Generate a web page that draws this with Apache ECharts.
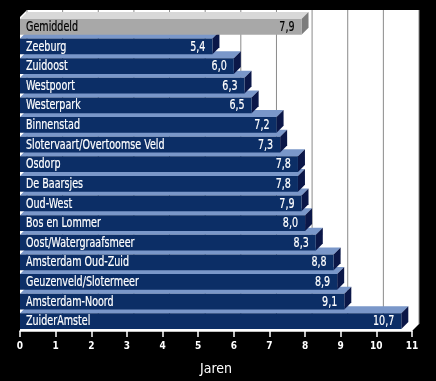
<!DOCTYPE html>
<html><head><meta charset="utf-8">
<script src="https://cdn.jsdelivr.net/npm/echarts@6/dist/echarts.min.js"></script>
<style>html,body{margin:0;padding:0;background:#000;}#c{width:436px;height:381px;}</style>
</head><body><div id="c"></div>
<script>
const categories = ['Gemiddeld','Zeeburg','Zuidoost','Westpoort','Westerpark','Binnenstad','Slotervaart/Overtoomse Veld','Osdorp','De Baarsjes','Oud-West','Bos en Lommer','Oost/Watergraafsmeer','Amsterdam Oud-Zuid','Geuzenveld/Slotermeer','Amsterdam-Noord','ZuiderAmstel'];
const values = [7.9,5.4,6.0,6.3,6.5,7.2,7.3,7.8,7.8,7.9,8.0,8.3,8.8,8.9,9.1,10.7];
const xTicks = [0,1,2,3,4,5,6,7,8,9,10,11];
const highlight = 'Gemiddeld';
const axisTitle = 'Jaren';

const D = 7;
const SX = 0.76;
const FONT = '"DejaVu Sans Condensed","DejaVu Sans",sans-serif';
const chart = echarts.init(document.getElementById('c'));

function fmt(v){ return v.toFixed(1).replace('.', ','); }

function renderBox(params, api){
  const cs = params.coordSys;
  const x0 = cs.x, y0 = cs.y, x1 = cs.x + cs.width, y1 = cs.y + cs.height;
  const ch = [{type:'polygon', shape:{points:[[x0,y0],[x0+D,y0-D],[x1+D,y0-D],[x1+D,y1-D],[x1,y1],[x0,y1]]}, style:{fill:'#ffffff'}}];
  xTicks.forEach(t => {
    const x = api.coord([t, 0])[0] + D;
    ch.push({type:'line', shape:{x1:x, y1:y0-D, x2:x, y2:y1-D}, style:{stroke:'#8a8a8a', lineWidth:1}});
  });
  return {type:'group', children: ch};
}

function txt(s, x, y, color, align){
  return {type:'text', x:x, y:y, scaleX:SX,
    style:{text:s, x:0, y:0, fill:color, stroke:color, lineWidth:0.2, font:'14px '+FONT, align:align, verticalAlign:'middle', textAlign:align, textVerticalAlign:'middle'}};
}

function renderBar(params, api){
  const v = api.value(0);
  const ci = api.value(1);
  const p0 = api.coord([0, ci]);
  const p1 = api.coord([v, ci]);
  const h = api.size([0, 1])[1] * 0.8;
  const xL = p0[0], xR = p1[0], yT = p0[1] - h/2, yB = p0[1] + h/2;
  const avg = categories[ci] === highlight;
  const cFront = avg ? '#a8a8a8' : '#0c2e66';
  const cTop = avg ? '#d8d8d8' : '#7a97c9';
  const cSide = avg ? '#7c7c7c' : '#0b1748';
  const tc = avg ? '#000000' : '#ffffff';
  return {type:'group', children:[
    {type:'polygon', shape:{points:[[xL,yT],[xL+D,yT-D],[xR+D,yT-D],[xR,yT]]}, style:{fill:cTop}},
    {type:'polygon', shape:{points:[[xR,yT],[xR+D,yT-D],[xR+D,yB-D],[xR,yB]]}, style:{fill:cSide}},
    {type:'rect', shape:{x:xL, y:yT, width:xR-xL, height:yB-yT}, style:{fill:cFront}},
    txt(categories[ci], xL+6, p0[1]+0.5, tc, 'left'),
    txt(fmt(v), xR-7, p0[1]+0.5, tc, 'right')
  ]};
}

const barData = [];
for (let i = categories.length - 1; i >= 0; i--) barData.push([values[i], categories[i]]);

chart.setOption({
  backgroundColor:'#000000',
  animation:false,
  grid:{left:20, right:24, top:17, bottom:46},
  xAxis:{type:'value', min:0, max:11, interval:1,
    axisLine:{show:true, lineStyle:{color:'#ffffff', width:1.5}},
    axisTick:{show:true, length:6, lineStyle:{color:'#ffffff', width:1.5}},
    axisLabel:{color:'#ffffff', fontSize:10, margin:10, fontFamily:FONT, fontWeight:'bold'},
    splitLine:{show:false},
    name:axisTitle, nameLocation:'middle', nameGap:31,
    nameTextStyle:{color:'#ffffff', fontSize:14, fontFamily:FONT}},
  yAxis:{type:'category', data:categories, inverse:true, show:false},
  series:[
    {type:'custom', renderItem:renderBox, data:[[0, categories[0]]], encode:{x:0, y:1}, z:1, silent:true},
    {type:'custom', renderItem:renderBar, data:barData, encode:{x:0, y:1}, z:2}
  ]
});
</script></body></html>
